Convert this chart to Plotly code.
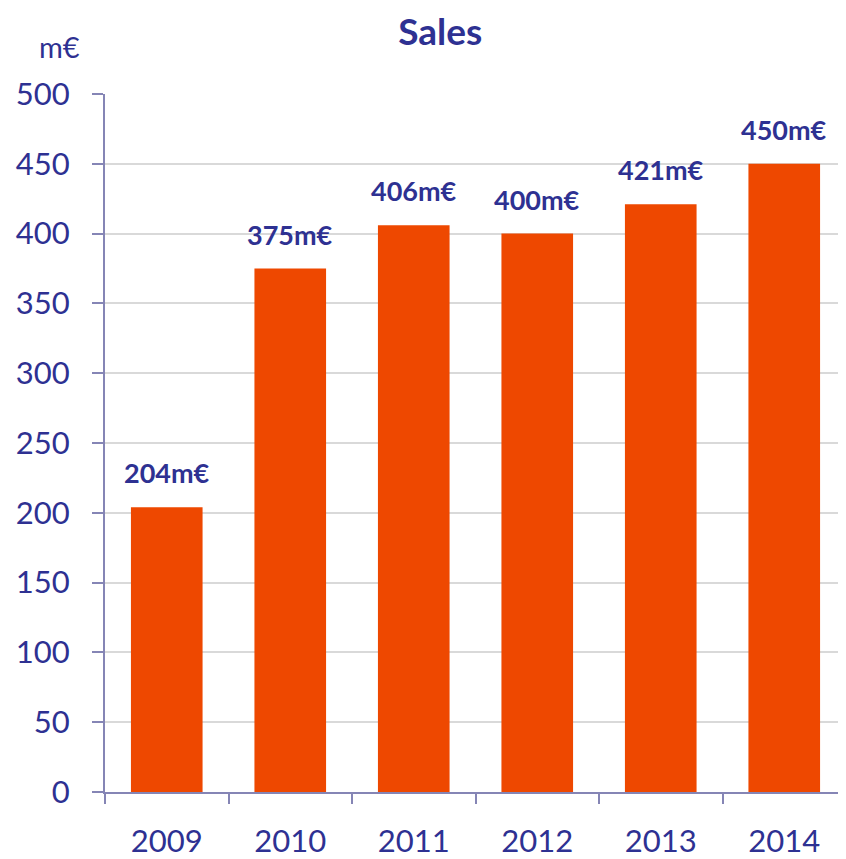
import plotly.graph_objects as go

years = ["2009", "2010", "2011", "2012", "2013", "2014"]
sales = [204, 375, 406, 400, 421, 450]
labels = ["204m€", "375m€", "406m€", "400m€", "421m€", "450m€"]

NAVY = "#2E3192"
AXIS = "#8585B5"
FONT = "Lato"

fig = go.Figure()
fig.add_trace(go.Bar(
    x=years, y=sales,
    marker=dict(color="#EE4800", line=dict(width=0)),
    width=0.58,
    hoverinfo="x+y",
))

for i, (v, lab) in enumerate(zip(sales, labels)):
    fig.add_annotation(x=i, y=v, text="<b>" + lab + "</b>", showarrow=False,
                       yanchor="bottom", yshift=16,
                       font=dict(family=FONT, size=27, color=NAVY))

fig.add_annotation(xref="paper", yref="paper", x=-0.061, y=1.0, yshift=28,
                   text="m€", showarrow=False, xanchor="center", yanchor="bottom",
                   font=dict(family=FONT, size=29, color=NAVY))

fig.update_layout(
    width=846, height=859,
    margin=dict(l=97, r=8, t=86, b=71),
    paper_bgcolor="white", plot_bgcolor="white",
    showlegend=False,
    title=dict(text="<b>Sales</b>", x=0.511, xanchor="center", y=0.9725, yanchor="middle",
               font=dict(family=FONT, size=37, color=NAVY)),
)
fig.update_xaxes(
    type="category", range=[-0.5, len(years) - 0.5], tickson="boundaries",
    ticks="outside", ticklen=10, tickangle=0, ticklabelstandoff=21,
    tickcolor=AXIS, tickwidth=2, showline=True, linecolor=AXIS, linewidth=2,
    showgrid=False, tickfont=dict(family=FONT, size=31, color=NAVY),
)
fig.update_yaxes(
    range=[0, 500], dtick=50, ticks="outside", ticklen=11, tickcolor=AXIS, tickwidth=2,
    showline=True, linecolor=AXIS, linewidth=2, ticklabelstandoff=16,
    showgrid=True, gridcolor="#D9D9D9", gridwidth=2, zeroline=False,
    tickfont=dict(family=FONT, size=31, color=NAVY),
)

fig.write_html("out.html")
